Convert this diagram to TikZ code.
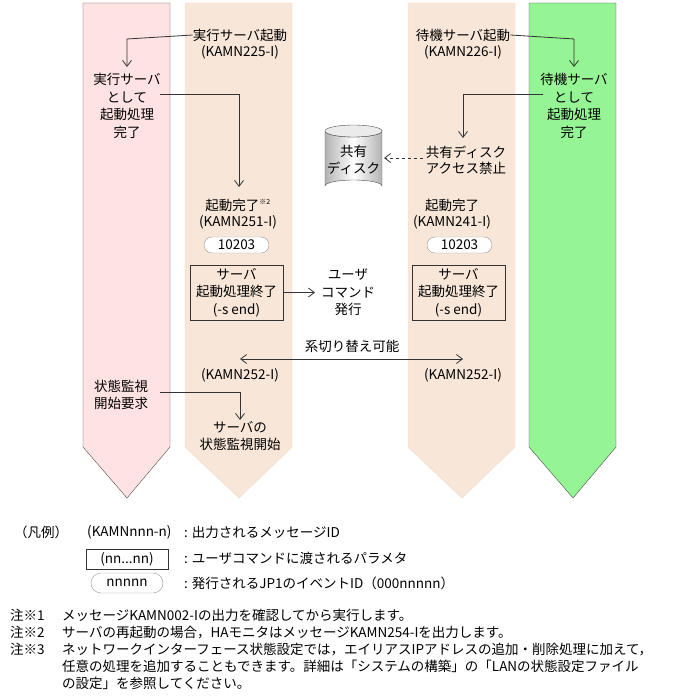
\documentclass[tikz,border=0pt]{standalone}
\usepackage{fontspec}
\setmainfont{Noto Sans CJK JP}
\usetikzlibrary{arrows.meta,shapes.geometric}
\definecolor{pinkc}{HTML}{FFE2E2}
\definecolor{beigec}{HTML}{F8E7D8}
\definecolor{beigeb}{HTML}{EFD9C5}
\definecolor{greenc}{HTML}{95F595}
\begin{document}
\begin{tikzpicture}[x=1pt,y=-1pt,
  txt/.style={inner sep=0pt,font=\fontsize{13.5}{15}\selectfont,align=center},
  arr/.style={draw=black!80,line width=0.8pt,-{Straight Barb[length=6pt,width=9pt]}},
  cmdbox/.style={draw=black!80,line width=0.8pt,fill=beigec,minimum width=93pt,minimum height=55pt},
  evbox/.style={draw=black!40,fill=white,rounded corners=8pt,minimum width=65pt,minimum height=16pt,inner sep=0pt,font=\fontsize{13.5}{15}\selectfont}]
\useasboundingbox (0,0) rectangle (695,700);
% columns
\fill[pinkc,draw=black!70] (83,3) -- (170,3) -- (170,447) -- (127,498) -- (83,447) -- cycle;
\fill[beigec,draw=beigeb] (185,3) -- (292,3) -- (292,447) -- (239,498) -- (185,447) -- cycle;
\fill[beigec,draw=beigeb] (408,3) -- (515,3) -- (515,447) -- (462,498) -- (408,447) -- cycle;
\fill[greenc,draw=black!70] (529,3) -- (616,3) -- (616,447) -- (573,498) -- (529,447) -- cycle;
% top texts
\node[txt] (a1) at (240,35) {実行サーバ起動};
\node[txt] (a1b) at (240,52) {(KAMN225-I)};
\node[txt] (b1) at (463,35) {待機サーバ起動};
\node[txt] (b1b) at (463,52) {(KAMN226-I)};
\node[txt,font=\fontsize{13.5}{17.5}\selectfont] (p1) at (127,106) {実行サーバ\\として\\起動処理\\完了};
\node[txt,font=\fontsize{13.5}{17.5}\selectfont] (g1) at (574,106) {待機サーバ\\として\\起動処理\\完了};
\coordinate (p1t) at (127,67);
\coordinate (g1t) at (574,67);
\draw[arr] (a1.west) -- (127,39) -- (p1t);
\draw[arr] (b1.east) -- (574,39) -- (g1t);
% disk
\node[txt,font=\fontsize{13.5}{16}\selectfont] (na) at (466,160) {共有ディスク\\アクセス禁止};
\coordinate (nat) at (463,138);
\draw[arr] (160,94) -| (239,187);
\draw[arr] (543,94) -| (nat);
\shade[left color=black!30,right color=black!30,middle color=white,draw=black!70]
  (325,131) -- (325,186) arc[start angle=180,end angle=360,x radius=28.5,y radius=6] -- (382,131) arc[start angle=0,end angle=180,x radius=28.5,y radius=6];
\draw[black!70,fill=black!8] (353.5,131) ellipse[x radius=28.5,y radius=6];
\node[txt,font=\fontsize{13.5}{17}\selectfont] (disk) at (353.5,160) {共有\\ディスク};
\coordinate (diskr) at (384,158);
\draw[arr,dashed] (423,158) -- (diskr);
% middle
\node[txt] (c1) at (238,205) {起動完了\textsuperscript{\fontsize{7}{8}\selectfont ※2}};
\node[txt] (c1b) at (238,222) {(KAMN251-I)};
\node[evbox] (e1) at (236.5,245) {10203};
\node[cmdbox] (s1) at (236.5,292.5) {};
\node[txt,font=\fontsize{13.5}{17.5}\selectfont] at (s1) {サーバ\\起動処理終了\\(-s end)};
\node[txt] (d1) at (452,205) {起動完了};
\node[txt] (d1b) at (452,222) {(KAMN241-I)};
\node[evbox] (e2) at (459.5,245) {10203};
\node[cmdbox] (s2) at (458.5,292.5) {};
\node[txt,font=\fontsize{13.5}{17.5}\selectfont] at (s2) {サーバ\\起動処理終了\\(-s end)};
\node[txt,font=\fontsize{13.5}{17.5}\selectfont] (uc) at (348,292.5) {ユーザ\\コマンド\\発行};
\draw[arr] (s1.east) -- (315,292.5);
% lower
\node[txt] (sw) at (352,346) {系切り替え可能};
\node[txt] (k1) at (240,375) {(KAMN252-I)};
\node[txt] (k2) at (463,375) {(KAMN252-I)};
\draw[arr,{Straight Barb[length=6pt,width=9pt]}-{Straight Barb[length=6pt,width=9pt]}] (240,359) -- (463,359);
\node[txt,font=\fontsize{13.5}{17}\selectfont,align=left,anchor=west] (m1) at (94,394.5) {状態監視\\開始要求};
\node[txt,font=\fontsize{13.5}{17}\selectfont] (m2) at (240,436.5) {サーバの\\状態監視開始};
\draw[arr] (160,392) -| (240,420);
% legend
\node[txt,anchor=west] (lg) at (14,532) {（凡例）};
\node[txt,anchor=west] (lg1) at (87,532) {(KAMNnnn-n)};
\node[txt,anchor=west] (lg1t) at (184,532) {: 出力されるメッセージID};
\node[draw=black!80,line width=0.8pt,minimum width=82pt,minimum height=20pt,inner sep=0pt,font=\fontsize{13.5}{15}\selectfont] (lg2) at (127,559) {(nn...nn)};
\node[txt,anchor=west] (lg2t) at (184,558) {: ユーザコマンドに渡されるパラメタ};
\node[evbox,minimum width=72pt,minimum height=20pt,rounded corners=10pt] (lg3) at (127,583) {nnnnn};
\node[txt,anchor=west] (lg3t) at (184,583) {: 発行されるJP1のイベントID（000nnnnn）};
\node[txt,anchor=north west,align=left,font=\fontsize{13.5}{17}\selectfont] (notes) at (10,609) {注※1\\注※2\\注※3};
\node[txt,anchor=north west,align=left,font=\fontsize{13.5}{17}\selectfont] (notest) at (62,609) {メッセージKAMN002-Iの出力を確認してから実行します。\\サーバの再起動の場合，HAモニタはメッセージKAMN254-Iを出力します。\\ネットワークインターフェース状態設定では，エイリアスIPアドレスの追加・削除処理に加えて，\\任意の処理を追加することもできます。詳細は「システムの構築」の「LANの状態設定ファイル\\の設定」を参照してください。};
\end{tikzpicture}
\end{document}
